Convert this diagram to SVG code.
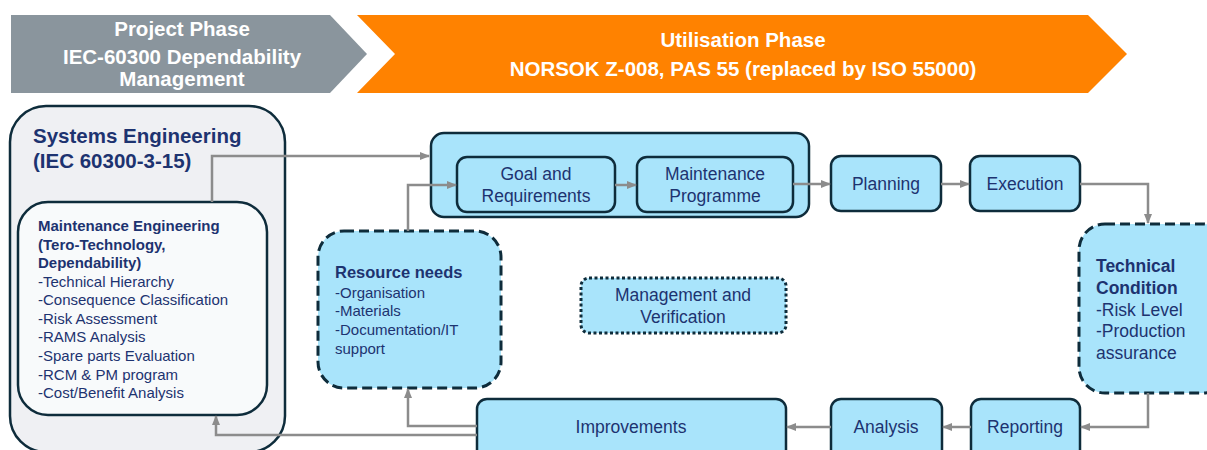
<svg xmlns="http://www.w3.org/2000/svg" width="1207" height="450" viewBox="0 0 1207 450">
<style>
.hd{font-family:"Liberation Sans",Arial,sans-serif;font-weight:bold;font-size:20.5px;fill:#ffffff;text-anchor:middle}
.box{fill:#a9e4fb;stroke:#0e2c3b;stroke-width:2.5}
.dash{fill:#a9e4fb;stroke:#0e2c3b;stroke-width:3;stroke-dasharray:10 5}
.dot{fill:#a9e4fb;stroke:#0e2c3b;stroke-width:3;stroke-dasharray:3 2.5}
.lb{font-family:"Liberation Sans",Arial,sans-serif;font-size:17.5px;fill:#1d3370;text-anchor:middle}
.tx{font-family:"Liberation Sans",Arial,sans-serif;fill:#1d3370}
.b{font-weight:bold}
.con{fill:none;stroke:#8c8c8c;stroke-width:2.5}
</style>
<defs>
<marker id="ah" markerUnits="userSpaceOnUse" markerWidth="10" markerHeight="10" viewBox="0 0 10 10" refX="9" refY="5" orient="auto">
<path d="M0,1 L10,5 L0,9 Z" fill="#8c8c8c"/>
</marker>
</defs>
<rect width="1207" height="450" fill="#ffffff"/>
<g id="project-phase">
<path d="M11,15 H330 L367,54 L330,93 H11 Z" fill="#8a959d"/>
<text class="hd" x="182" y="36">Project Phase</text>
<text class="hd" x="182" y="64">IEC-60300 Dependability</text>
<text class="hd" x="182" y="86">Management</text>
</g>
<g id="utilisation-phase">
<path d="M357,15 H1088 L1127,54 L1088,93 H357 L395,54 Z" fill="#ff8200"/>
<text class="hd" x="743" y="47">Utilisation Phase</text>
<text class="hd" x="743" y="76">NORSOK Z-008, PAS 55 (replaced by ISO 55000)</text>
</g>
<g id="systems-engineering">
<rect x="10" y="106" width="275" height="346" rx="36" fill="#eff0f3" stroke="#0e2c3b" stroke-width="2.5"/>
<text class="tx b" x="33" y="143" font-size="20.5">Systems Engineering</text>
<text class="tx b" x="33" y="168" font-size="20.5">(IEC 60300-3-15)</text>
</g>
<g id="maintenance-engineering">
<rect x="18" y="202" width="249" height="213" rx="30" fill="#f8fafb" stroke="#0e2c3b" stroke-width="2.5"/>
<text class="tx" font-size="15" x="38">
<tspan class="b" x="38" y="231">Maintenance Engineering</tspan>
<tspan class="b" x="38" y="250">(Tero-Technology,</tspan>
<tspan class="b" x="38" y="268">Dependability)</tspan>
<tspan x="38" y="287">-Technical Hierarchy</tspan>
<tspan x="38" y="305">-Consequence Classification</tspan>
<tspan x="38" y="324">-Risk Assessment</tspan>
<tspan x="38" y="342">-RAMS Analysis</tspan>
<tspan x="38" y="361">-Spare parts Evaluation</tspan>
<tspan x="38" y="380">-RCM &amp; PM program</tspan>
<tspan x="38" y="398">-Cost/Benefit Analysis</tspan>
</text>
</g>
<g id="maintenance-container">
<rect class="box" x="431" y="133" width="378" height="84" rx="13"/>
</g>
<g id="goal-requirements">
<rect class="box" x="457" y="157" width="158" height="55" rx="10"/>
<text class="lb" x="536" y="180">Goal and</text>
<text class="lb" x="536" y="202">Requirements</text>
</g>
<g id="maintenance-programme">
<rect class="box" x="637" y="157" width="156" height="55" rx="10"/>
<text class="lb" x="715" y="180">Maintenance</text>
<text class="lb" x="715" y="202">Programme</text>
</g>
<g id="planning">
<rect class="box" x="831" y="156" width="110" height="55" rx="10"/>
<text class="lb" x="886" y="190">Planning</text>
</g>
<g id="execution">
<rect class="box" x="970" y="156" width="110" height="55" rx="10"/>
<text class="lb" x="1025" y="190">Execution</text>
</g>
<g id="technical-condition">
<rect class="dash" x="1079" y="224" width="150" height="169" rx="26"/>
<text class="tx" font-size="17.5">
<tspan class="b" x="1096" y="272">Technical</tspan>
<tspan class="b" x="1096" y="294">Condition</tspan>
<tspan x="1096" y="316">-Risk Level</tspan>
<tspan x="1096" y="337">-Production</tspan>
<tspan x="1096" y="359">assurance</tspan>
</text>
</g>
<g id="reporting">
<rect class="box" x="971" y="399" width="109" height="70" rx="10"/>
<text class="lb" x="1025" y="433">Reporting</text>
</g>
<g id="analysis">
<rect class="box" x="831" y="399" width="111" height="70" rx="10"/>
<text class="lb" x="886" y="433">Analysis</text>
</g>
<g id="improvements">
<rect class="box" x="477" y="399" width="309" height="70" rx="10"/>
<text class="lb" x="631" y="433">Improvements</text>
</g>
<g id="resource-needs">
<rect class="dash" x="318" y="231" width="183" height="157" rx="26"/>
<text class="tx" font-size="15">
<tspan class="b" x="335" y="278" font-size="16.5">Resource needs</tspan>
<tspan x="335" y="298">-Organisation</tspan>
<tspan x="335" y="316">-Materials</tspan>
<tspan x="335" y="335">-Documentation/IT</tspan>
<tspan x="335" y="354">support</tspan>
</text>
</g>
<g id="management-verification">
<rect class="dot" x="581" y="278" width="205" height="55" rx="8"/>
<text class="lb" x="683" y="301">Management and</text>
<text class="lb" x="683" y="323">Verification</text>
</g>
<g id="connectors">
<path class="con" d="M212,202 V156 H429" marker-end="url(#ah)"/>
<path class="con" d="M408,231 V185 H456" marker-end="url(#ah)"/>
<path class="con" d="M615,185 H636" marker-end="url(#ah)"/>
<path class="con" d="M793,184 H830" marker-end="url(#ah)"/>
<path class="con" d="M941,184 H969" marker-end="url(#ah)"/>
<path class="con" d="M1080,184 H1148 V223" marker-end="url(#ah)"/>
<path class="con" d="M1148,393 V427 H1081" marker-end="url(#ah)"/>
<path class="con" d="M971,427 H943" marker-end="url(#ah)"/>
<path class="con" d="M831,427 H787" marker-end="url(#ah)"/>
<path class="con" d="M477,426 H408 V389" marker-end="url(#ah)"/>
<path class="con" d="M477,435 H216 V416" marker-end="url(#ah)"/>
</g>
</svg>
